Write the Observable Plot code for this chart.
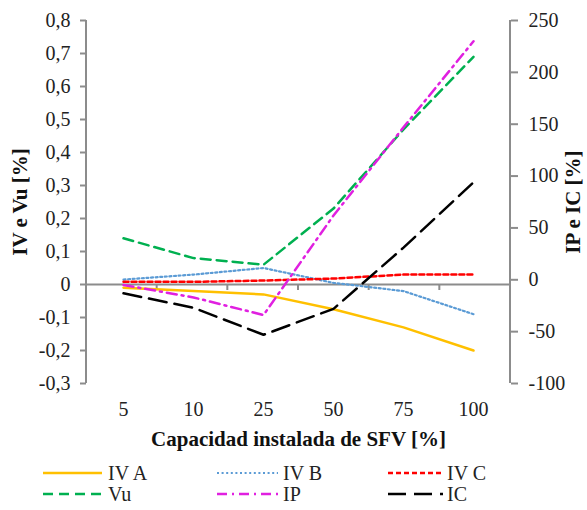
<!DOCTYPE html>
<html><head><meta charset="utf-8">
<script src="https://cdn.jsdelivr.net/npm/d3@7"></script>
<script src="https://cdn.jsdelivr.net/npm/@observablehq/plot@0.6"></script>
</head><body style="margin:0;background:#fff;font-family:'Liberation Serif',serif;">
<div id="chart"></div><div id="legend" style="position:relative;width:587px;height:55px;font-family:'Liberation Serif',serif;"></div>
<script>
const categories = ["5", "10", "25", "50", "75", "100"];
// left axis series (IV e Vu [%])
const ivA = [-0.01, -0.02, -0.03, -0.075, -0.13, -0.2];
const ivB = [0.015, 0.03, 0.05, 0.005, -0.02, -0.09];
const ivC = [0.008, 0.008, 0.012, 0.018, 0.03, 0.03];
const vu  = [0.14, 0.08, 0.06, 0.23, 0.47, 0.69];
// right axis series (IP e IC [%])
const ip  = [-5, -17, -34, 62, 147, 230];
const ic  = [-13, -27, -53, -28, 31, 94];

const leftTicks = [-0.3, -0.2, -0.1, 0, 0.1, 0.2, 0.3, 0.4, 0.5, 0.6, 0.7, 0.8];
const rightTicks = [-100, -50, 0, 50, 100, 150, 200, 250];
const leftDomain = [-0.3, 0.8];
const rightDomain = [-100, 250];

const xTitle = "Capacidad instalada de SFV [%]";
const yLeftTitle = "IV e Vu [%]";
const yRightTitle = "IP e IC [%]";

const series = [
  {name: "IV A", values: ivA, axis: "left",  color: "#FFC000", dash: null,        width: 2.5},
  {name: "IV B", values: ivB, axis: "left",  color: "#5B9BD5", dash: "2,2.6",     width: 2.2},
  {name: "IV C", values: ivC, axis: "left",  color: "#FF0000", dash: "5,3",       width: 2.5},
  {name: "Vu",   values: vu,  axis: "left",  color: "#00B050", dash: "10,6",      width: 2.5},
  {name: "IP",   values: ip,  axis: "right", color: "#E020E0", dash: "10,5,2,5",  width: 2.5},
  {name: "IC",   values: ic,  axis: "right", color: "#000000", dash: "18,8",      width: 2.5}
];

const FONT = "'Liberation Serif', serif";
const toLeft = r => leftDomain[0] + (r - rightDomain[0]) / (rightDomain[1] - rightDomain[0]) * (leftDomain[1] - leftDomain[0]);
const fromLeft = l => rightDomain[0] + (l - leftDomain[0]) / (leftDomain[1] - leftDomain[0]) * (rightDomain[1] - rightDomain[0]);
const fmtLeft = d => Math.abs(d) < 1e-9 ? "0" : d.toFixed(1).replace(".", ",");

const axisColor = "#8c8c8c";
const W = 587, H = 455;

function axisFrame(index, scales, values, dims) {
  const {marginLeft: l, marginRight: r, marginTop: t, marginBottom: b, width: w, height: h} = dims;
  const g = d3.create("svg:g").attr("stroke", axisColor).attr("stroke-width", 2);
  const x0 = l, x1 = w - r, y0 = t, y1 = h - b;
  g.append("line").attr("x1", x0).attr("x2", x0).attr("y1", y0).attr("y2", y1);
  g.append("line").attr("x1", x1).attr("x2", x1).attr("y1", y0).attr("y2", y1);
  const yz = scales.y(0);
  const bw = (x1 - x0) / categories.length;
  for (let i = 1; i < categories.length; i++) {
    g.append("line").attr("x1", x0 + i * bw).attr("x2", x0 + i * bw).attr("y1", yz).attr("y2", yz + 6);
  }
  return g.node();
}

const lineMarks = series.map(s => {
  const rows = categories.map((c, i) => ({cat: c, v: s.axis === "left" ? s.values[i] : toLeft(s.values[i])}));
  return Plot.line(rows, {x: "cat", y: "v", stroke: s.color, strokeWidth: s.width, strokeDasharray: s.dash || undefined, strokeLinejoin: "miter"});
});

const chart = Plot.plot({
  width: W, height: H,
  marginLeft: 86, marginRight: 77, marginTop: 20, marginBottom: 72,
  style: {fontFamily: FONT, fontSize: "20px", color: "#222", background: "#fff"},
  x: {type: "band", domain: categories, padding: 0},
  y: {domain: leftDomain},
  marks: [
    Plot.ruleY([0], {stroke: axisColor, strokeWidth: 2}),
    axisFrame,
    Plot.axisY({ticks: leftTicks, tickFormat: fmtLeft, tickSize: 6, tickPadding: 10, stroke: axisColor, strokeWidth: 2, fontSize: 20, label: null}),
    Plot.axisY({anchor: "right", ticks: rightTicks.map(toLeft), tickFormat: d => String(Math.round(fromLeft(d))), tickSize: 7, tickPadding: 11, stroke: axisColor, strokeWidth: 2, fontSize: 20, label: null}),
    Plot.axisX({tickSize: 0, tickPadding: 18, fontSize: 20, label: null}),
    ...lineMarks,
    Plot.text([xTitle], {frameAnchor: "bottom", dy: 62, text: d => d, fontWeight: "bold", fontSize: 21, fill: "#111"}),
    Plot.text([yLeftTitle], {frameAnchor: "left", dx: -66, rotate: -90, textAnchor: "middle", text: d => d, fontWeight: "bold", fontSize: 21, fill: "#111"}),
    Plot.text([yRightTitle], {frameAnchor: "right", dx: 63, rotate: -90, textAnchor: "middle", text: d => d, fontWeight: "bold", fontSize: 21, fill: "#111"})
  ]
});
document.getElementById("chart").appendChild(chart);

// legend
const legendPos = [
  {lx: 43, lw: 59, tx: 108, cy: 18},
  {lx: 217, lw: 61, tx: 283, cy: 18},
  {lx: 388, lw: 55, tx: 447, cy: 18},
  {lx: 43, lw: 59, tx: 108, cy: 39},
  {lx: 217, lw: 61, tx: 283, cy: 39},
  {lx: 388, lw: 55, tx: 447, cy: 39}
];
const legend = d3.select("#legend");
series.forEach((s, i) => {
  const p = legendPos[i];
  const it = legend.append("div")
    .style("position", "absolute").style("height", "20px").style("display", "flex").style("align-items", "center")
    .style("font-size", "20px").style("color", "#222").style("white-space", "nowrap").style("font-family", FONT)
    .style("left", p.lx + "px").style("top", (p.cy - 10) + "px");
  const sv = it.append("svg").attr("width", p.lw).attr("height", 10).style("display", "block");
  sv.append("line").attr("x1", 0).attr("x2", p.lw).attr("y1", 5).attr("y2", 5)
    .attr("stroke", s.color).attr("stroke-width", s.width).attr("stroke-dasharray", s.dash);
  it.append("span").style("margin-left", (p.tx - p.lx - p.lw) + "px").style("font-family", FONT).text(s.name);
});
</script>
</body></html>
